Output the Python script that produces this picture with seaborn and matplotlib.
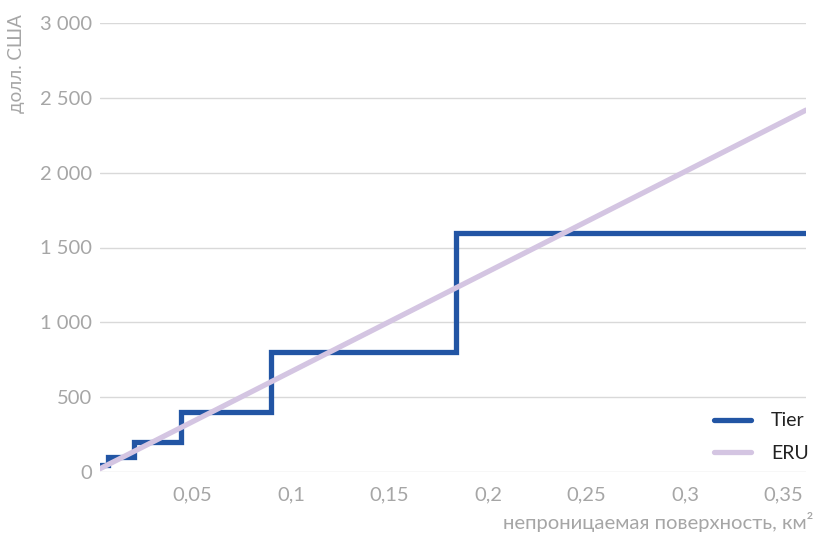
import matplotlib
matplotlib.use("Agg")
import matplotlib.pyplot as plt
import matplotlib.ticker as mticker
import pandas as pd
import seaborn as sns

# data
tier_area = [0.003, 0.007, 0.0205, 0.044, 0.09, 0.184, 0.3615]
tier_cost = [50, 100, 200, 400, 800, 1600, 1600]
eru_area = [0.003, 0.3615]
eru_cost = [22, 2418]

x_ticks = [0.05, 0.1, 0.15, 0.2, 0.25, 0.3, 0.35]
y_ticks = [0, 500, 1000, 1500, 2000, 2500, 3000]

tier = pd.DataFrame({"area": tier_area, "cost": tier_cost})
eru = pd.DataFrame({"area": eru_area, "cost": eru_cost})

sns.set_style("white")
plt.rcParams["font.family"] = ["Lato", "DejaVu Sans"]

grey = "#a6a6a6"
fig = plt.figure(figsize=(8.18, 5.36), dpi=100)
ax = fig.add_axes([100 / 818, 1 - 472 / 536, 706 / 818, 449 / 536])

sns.lineplot(data=tier, x="area", y="cost", ax=ax, color="#2255a4", lw=3.8,
             drawstyle="steps-post", solid_joinstyle="miter", label="Tier",
             zorder=3)
sns.lineplot(data=eru, x="area", y="cost", ax=ax, color="#d4c5e2", lw=3.8,
             label="ERU", zorder=4)

ax.set_xlim(0.003, 0.3615)
ax.set_ylim(0, 3000)
ax.set_xticks(x_ticks)
ax.set_yticks(y_ticks)
ax.xaxis.set_major_formatter(mticker.FuncFormatter(
    lambda v, p: f"{v:g}".replace(".", ",")))
ax.yaxis.set_major_formatter(mticker.FuncFormatter(
    lambda v, p: f"{int(v):,}".replace(",", " ")))
ax.tick_params(axis="both", length=0, labelsize=14.5, labelcolor=grey)
ax.tick_params(axis="x", pad=10)
ax.tick_params(axis="y", pad=5.5)
ax.grid(axis="y", color="#d9d9d9", lw=1)
for s in ax.spines.values():
    s.set_visible(False)

ax.set_xlabel("непроницаемая поверхность, км²", fontsize=14.6, color=grey,
              loc="right")
ax.xaxis.set_label_coords(1.01, -0.09)
ax.set_ylabel("")
fig.text(17 / 818, 1 - 64 / 536, "долл. США", fontsize=13.5, color=grey,
         rotation=90, ha="center", va="center")

leg = ax.legend(loc="lower right", frameon=False, fontsize=14,
                handlelength=1.9, handletextpad=1.05, labelspacing=0.8,
                borderaxespad=0, bbox_to_anchor=(1.015, 0.005))
for t in leg.get_texts():
    t.set_color("#222222")

fig.savefig("out.png", dpi=100)
